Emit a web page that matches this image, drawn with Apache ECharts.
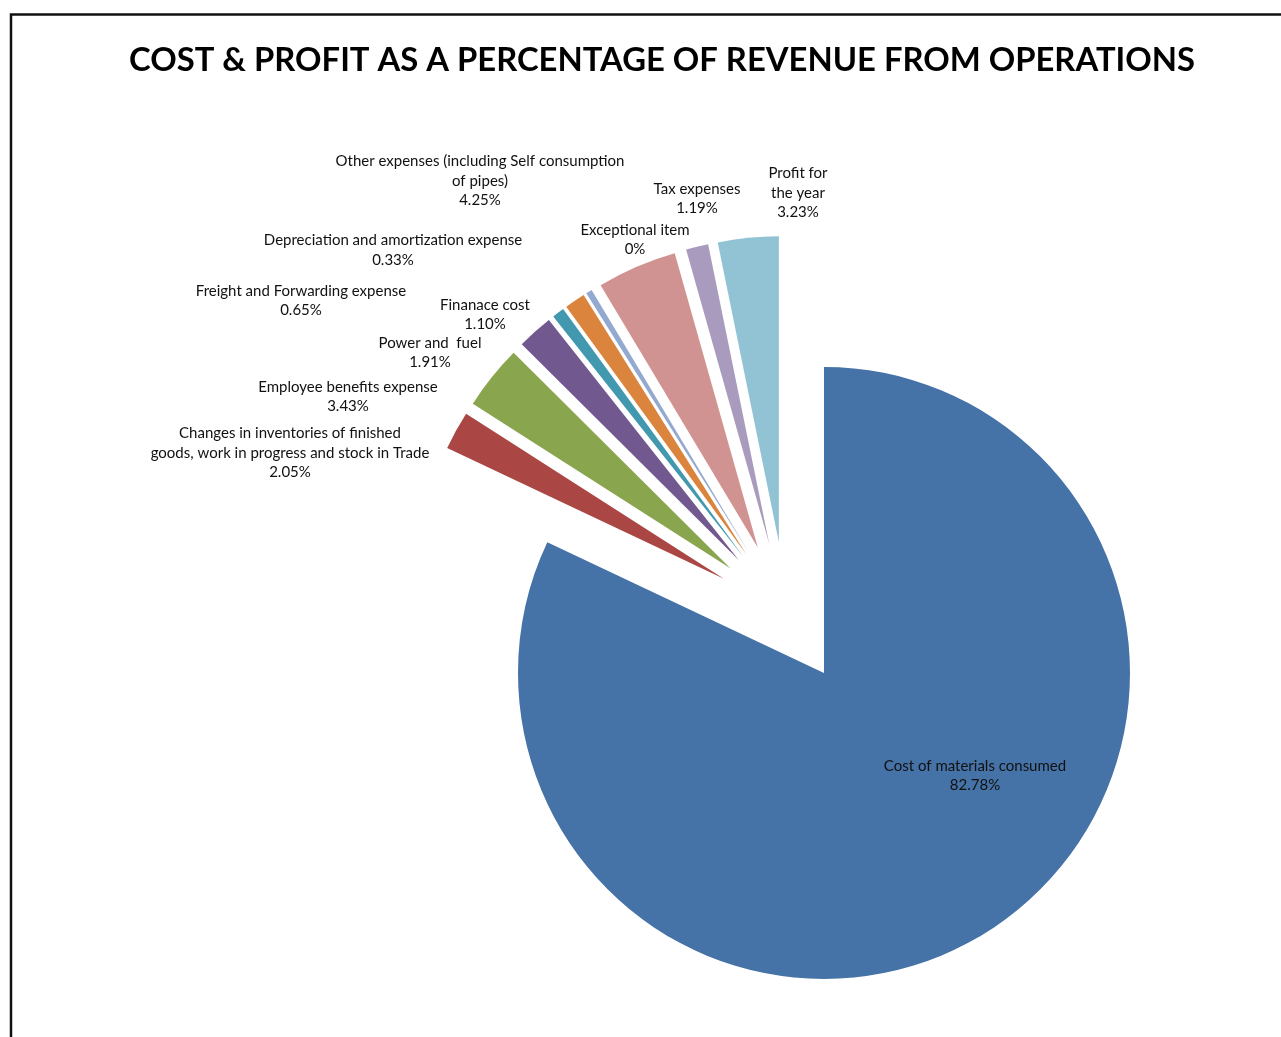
<!DOCTYPE html>
<html>
<head>
<meta charset="utf-8">
<script src="https://cdn.jsdelivr.net/npm/echarts@6/dist/echarts.min.js"></script>
<style>
html,body{margin:0;padding:0;background:#fff;}
#chart{width:1281px;height:1037px;}
</style>
</head>
<body>
<div id="chart"></div>
<script>
// ---- data ----
var categories = [
  'Cost of materials consumed',
  'Changes in inventories of finished\ngoods, work in progress and stock in Trade',
  'Employee benefits expense',
  'Power and  fuel',
  'Freight and Forwarding expense',
  'Finanace cost',
  'Depreciation and amortization expense',
  'Other expenses (including Self consumption\nof pipes)',
  'Exceptional item',
  'Tax expenses',
  'Profit for\nthe year'
];
var values = [82.78, 2.05, 3.43, 1.91, 0.65, 1.10, 0.33, 4.25, 0, 1.19, 3.23];

// ---- styles (kept separate from data) ----
var colors = ['#4572A7', '#AA4643', '#89A54E', '#71588F', '#4198AF', '#DB843D',
              '#93A9CF', '#D19392', '#B9CD96', '#A99BBD', '#92C3D4'];
// label centre positions (text anchors)
var labelPos = [
  [975, 775.5], [290, 453], [348, 396.5], [430, 352.5], [301, 300.5], [485, 314.5],
  [393, 250], [480, 181], [635, 239.5], [697, 198.5], [798, 193]
];

var chart = echarts.init(document.getElementById('chart'));

var sliceData = categories.map(function (c, i) {
  return { name: c, value: values[i], selected: true, itemStyle: { color: colors[i] } };
});
var labelData = categories.map(function (c, i) {
  return { name: c, value: values[i] };
});

chart.setOption({
  animation: false,
  backgroundColor: '#ffffff',
  title: {
    text: 'COST & PROFIT AS A PERCENTAGE OF REVENUE FROM OPERATIONS',
    left: 124, top: 39,
    textStyle: { fontFamily: 'Lato', fontWeight: 'bold', fontSize: 32.8, color: '#000' }
  },
  graphic: [{
    type: 'rect', silent: true,
    shape: { x: 11, y: 14.5, width: 1400, height: 1100 },
    style: { fill: 'none', stroke: '#111', lineWidth: 2.5 }
  }],
  series: [{
    // exploded slices
    type: 'pie',
    center: [786, 613],
    radius: 306,
    startAngle: 90,
    clockwise: true,
    selectedMode: 'multiple',
    selectedOffset: 71,
    emphasis: { disabled: true },
    label: { show: false },
    labelLine: { show: false },
    data: sliceData
  }, {
    // data labels (same data, transparent sectors)
    type: 'pie',
    silent: true,
    center: [786, 613],
    radius: 306,
    startAngle: 90,
    clockwise: true,
    selectedMode: false,
    avoidLabelOverlap: false,
    minShowLabelAngle: 0,
    emphasis: { disabled: true },
    itemStyle: { color: 'rgba(0,0,0,0)', borderWidth: 0 },
    labelLine: { show: false },
    label: {
      show: true,
      position: 'outside',
      fontFamily: 'Lato',
      fontSize: 15,
      lineHeight: 19.5,
      color: '#111',
      align: 'center',
      formatter: function (p) {
        var v = p.value === 0 ? '0%' : p.value.toFixed(2) + '%';
        return p.name + '\n' + v;
      }
    },
    labelLayout: function (params) {
      var p = labelPos[params.dataIndex];
      return { x: p[0], y: p[1], align: 'center', verticalAlign: 'middle' };
    },
    data: labelData
  }]
});
</script>
</body>
</html>
